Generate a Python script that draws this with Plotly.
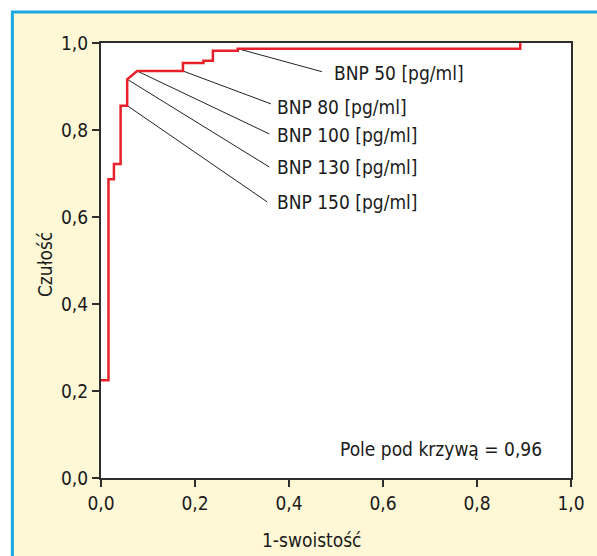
import plotly.graph_objects as go

# ROC curve (1-specificity, sensitivity)
roc_x = [0.0, 0.0159, 0.0159, 0.0275, 0.0275, 0.0417, 0.0417, 0.0557, 0.0557, 0.0769,
         0.1744, 0.1744, 0.218, 0.218, 0.238, 0.238, 0.291, 0.291, 0.892, 0.892]
roc_y = [0.225, 0.225, 0.687, 0.687, 0.722, 0.722, 0.856, 0.856, 0.9166, 0.9356,
         0.9356, 0.954, 0.954, 0.959, 0.959, 0.982, 0.982, 0.987, 0.987, 1.0]

# cut-off labels: point on curve, end of leader line, label anchor
labels = ["BNP 50 [pg/ml]", "BNP 80 [pg/ml]", "BNP 100 [pg/ml]", "BNP 130 [pg/ml]", "BNP 150 [pg/ml]"]
pt_x = [0.291, 0.1744, 0.0769, 0.0557, 0.0557]
pt_y = [0.987, 0.9356, 0.9356, 0.9166, 0.856]
end_x = [0.470, 0.3617, 0.358, 0.358, 0.3538]
end_y = [0.934, 0.860, 0.791, 0.715, 0.6345]
lab_x = [0.4915, 0.3708, 0.3708, 0.3708, 0.3708]
lab_y = [0.931, 0.853, 0.7885, 0.715, 0.635]

auc_text = "Pole pod krzywą = 0,96"
x_title = "1-swoistość"
y_title = "Czułość"
tick_vals = [0.0, 0.2, 0.4, 0.6, 0.8, 1.0]

FONT = "Liberation Sans Narrow, Arial Narrow, DejaVu Sans Condensed, Liberation Sans, sans-serif"
CREAM = "#FFF8D6"
BLUE = "#1AA8E2"
DARK = "#2e2e2e"

fig = go.Figure()

lx, ly = [], []
for a, b, c, d in zip(pt_x, pt_y, end_x, end_y):
    lx += [a, c, None]
    ly += [b, d, None]
fig.add_trace(go.Scatter(x=lx, y=ly, mode="lines", line=dict(color="#222", width=1),
                         hoverinfo="skip", showlegend=False))
fig.add_trace(go.Scatter(x=roc_x, y=roc_y, mode="lines", line=dict(color="#E8202A", width=2.5),
                         showlegend=False))

ann = []
for t, x, y in zip(labels, lab_x, lab_y):
    ann.append(dict(x=x, y=y, xref="x", yref="y", text=t, showarrow=False,
                    xanchor="left", yanchor="middle", font=dict(size=19, color="#1a1a1a", family=FONT)))
ann.append(dict(x=0.942, y=0.0667, xref="paper", yref="paper", text=auc_text, showarrow=False,
                xanchor="right", yanchor="middle", font=dict(size=19, color="#1a1a1a", family=FONT)))
ann.append(dict(x=0.449, y=-0.1425, xref="paper", yref="paper", text=x_title, showarrow=False,
                xanchor="center", yanchor="middle", font=dict(size=19, color="#1a1a1a", family=FONT)))
ann.append(dict(x=-0.1186, y=0.49, xref="paper", yref="paper", text=y_title, showarrow=False,
                textangle=-90, xanchor="center", yanchor="middle",
                font=dict(size=19, color="#1a1a1a", family=FONT)))

W, H = 597, 556
L, R, T, B = 101, 24, 43, 78
pw, ph = W - L - R, H - T - B

def px(v):
    return (v - L) / pw

def py(v):
    return (H - B - v) / ph

shapes = [
    dict(type="rect", xref="paper", yref="paper", x0=px(12), x1=px(W + 10), y0=py(H + 10), y1=py(12),
         fillcolor=CREAM, line=dict(color=BLUE, width=3), layer="below"),
    dict(type="rect", xref="paper", yref="paper", x0=0, x1=1, y0=0, y1=1,
         fillcolor="white", line=dict(width=0), layer="below"),
]

axis_common = dict(range=[0, 1], tickvals=tick_vals, tickformat=".1f", showgrid=False, zeroline=False,
                   showline=True, linecolor=DARK, linewidth=2, mirror=True,
                   ticks="outside", ticklen=7, tickwidth=1.5, tickcolor=DARK,
                   tickfont=dict(size=19, color="#1a1a1a", family=FONT), fixedrange=True)

fig.update_layout(
    width=W, height=H, margin=dict(l=L, r=R, t=T, b=B),
    paper_bgcolor="white", plot_bgcolor="white",
    separators=", ",
    xaxis=axis_common, yaxis=axis_common,
    annotations=ann, shapes=shapes,
    showlegend=False,
)

fig.write_html("out.html", config={"displayModeBar": False},
               post_script="document.body.style.margin='0';document.body.style.overflow='hidden';")
